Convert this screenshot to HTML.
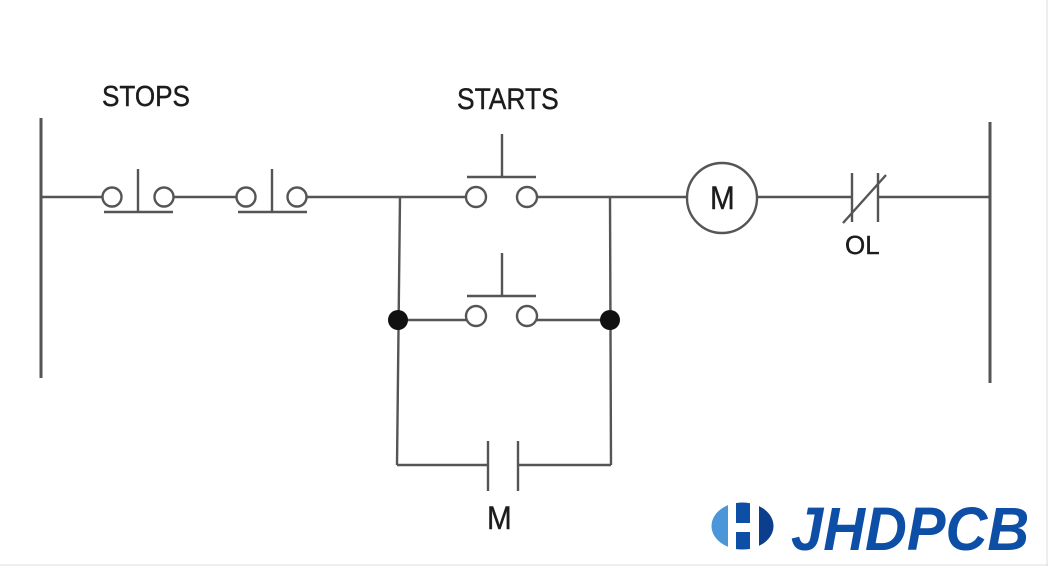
<!DOCTYPE html>
<html>
<head>
<meta charset="utf-8">
<style>
html,body{margin:0;padding:0;background:#fff;}
body{width:1048px;height:566px;overflow:hidden;position:relative;}
svg{position:absolute;left:0;top:0;}
</style>
</head>
<body>
<svg width="1048" height="566" viewBox="0 0 1048 566" xmlns="http://www.w3.org/2000/svg">
  <rect x="0" y="0" width="1048" height="566" fill="#fff"/>
  <!-- faint border right/bottom -->
  <line x1="1047" y1="0" x2="1047" y2="566" stroke="#ddd" stroke-width="1"/>
  <line x1="0" y1="565" x2="1048" y2="565" stroke="#ddd" stroke-width="1"/>

  <g stroke="#555" stroke-width="2.4" fill="none">
    <!-- rails -->
    <line x1="41" y1="118" x2="41" y2="378" stroke-width="3"/>
    <line x1="990" y1="122" x2="990" y2="383" stroke-width="3"/>

    <!-- main rung -->
    <line x1="41" y1="197" x2="102" y2="197"/>
    <!-- stop 1 -->
    <circle cx="112" cy="197" r="9.5"/>
    <circle cx="164" cy="197" r="9.5"/>
    <line x1="138" y1="169" x2="138" y2="212"/>
    <line x1="104" y1="212" x2="173" y2="212"/>
    <line x1="174" y1="197" x2="236" y2="197"/>
    <!-- stop 2 -->
    <circle cx="246" cy="197" r="9.5"/>
    <circle cx="297" cy="197" r="9.5"/>
    <line x1="272" y1="169" x2="272" y2="212"/>
    <line x1="238" y1="212" x2="307" y2="212"/>
    <line x1="307" y1="197" x2="466" y2="197"/>

    <!-- start 1 -->
    <circle cx="476" cy="197" r="10"/>
    <circle cx="527" cy="197" r="10"/>
    <line x1="502" y1="134" x2="502" y2="177"/>
    <line x1="467" y1="177" x2="536" y2="177"/>
    <line x1="537" y1="197" x2="687" y2="197"/>

    <!-- verticals -->
    <line x1="400" y1="197" x2="397" y2="465"/>
    <line x1="610" y1="197" x2="611" y2="465"/>

    <!-- start 2 -->
    <line x1="398" y1="320" x2="466" y2="320"/>
    <circle cx="476" cy="316" r="10"/>
    <circle cx="527" cy="316" r="10"/>
    <line x1="502" y1="253" x2="502" y2="296"/>
    <line x1="467" y1="296" x2="536" y2="296"/>
    <line x1="537" y1="320" x2="610" y2="320"/>

    <!-- bottom M contact -->
    <line x1="397" y1="465" x2="488" y2="465"/>
    <line x1="518" y1="465" x2="611" y2="465"/>
    <line x1="488" y1="441" x2="488" y2="491"/>
    <line x1="518" y1="441" x2="518" y2="491"/>

    <!-- motor -->
    <circle cx="722" cy="198" r="35"/>
    <line x1="757" y1="197" x2="852" y2="197"/>
    <!-- OL contact -->
    <line x1="852" y1="173" x2="852" y2="222"/>
    <line x1="878" y1="173" x2="878" y2="222"/>
    <line x1="843" y1="223" x2="886" y2="175"/>
    <line x1="878" y1="197" x2="990" y2="197"/>
  </g>

  <!-- junction dots -->
  <circle cx="398" cy="320" r="10" fill="#111"/>
  <circle cx="610" cy="320" r="10" fill="#111"/>

  <!-- labels -->
  <g font-family="Liberation Sans, sans-serif" fill="#1c1c1c" stroke="#1c1c1c" stroke-width="0.4">
    <text x="102" y="106" font-size="29" transform="translate(102 0) scale(0.9 1) translate(-102 0)">STOPS</text>
    <text x="457" y="109" font-size="30" transform="translate(457 0) scale(0.88 1) translate(-457 0)">STARTS</text>
    <text x="710" y="209" font-size="32" transform="translate(710 0) scale(0.93 1) translate(-710 0)">M</text>
    <text x="845" y="254" font-size="26">OL</text>
    <text x="487" y="529" font-size="32" transform="translate(487 0) scale(0.93 1) translate(-487 0)">M</text>
  </g>

  <!-- logo -->
  <defs>
    <clipPath id="lc">
      <ellipse cx="742.5" cy="526" rx="31" ry="23.5"/>
    </clipPath>
  </defs>
  <g clip-path="url(#lc)">
    <path d="M700 507 L728 503 L728 552 L700 552 Z" fill="#4a96d8"/>
    <rect x="736" y="500" width="14" height="23" fill="#0d4ea6"/>
    <rect x="736" y="532" width="14" height="22" fill="#0d4ea6"/>
    <rect x="759" y="500" width="20" height="54" fill="#0b3f8e"/>
  </g>
  <text x="791" y="550" font-family="Liberation Sans, sans-serif" font-weight="bold" font-style="italic" font-size="61" fill="#0d4ea6" transform="translate(791 0) scale(0.95 1) translate(-791 0)">JHDPCB</text>
</svg>
</body>
</html>
